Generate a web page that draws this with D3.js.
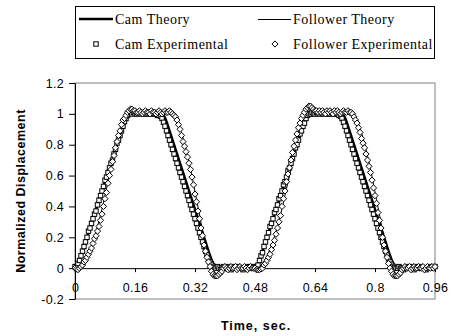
<!DOCTYPE html>
<html><head><meta charset="utf-8">
<script src="https://cdn.jsdelivr.net/npm/d3@7"></script>
<style>body{margin:0;background:#fff}svg{display:block}</style>
</head><body>
<svg id="c" width="451" height="336"></svg>
<script>
// sampling interval of all series (seconds)
const timeStep = 0.004;
const camTheory = [
0,.008,.025,.05,.08,.11,.14,.17,.2,.23,.26,.29,.32,.35,.38,.41,.44,.47,.5,.53,.56,.59,.62,.65,.68,.71,.74,.77,.8,.83,.86,.89,.92,.945,.967,.985,.996,1,
1,1,1,1,1,1,1,1,1,1,1,1,1,1,1,1,1,1,1,1,
1,.992,.975,.95,.92,.89,.86,.83,.8,.77,.74,.71,.68,.65,.62,.59,.56,.53,.5,.47,.44,.41,.38,.35,.32,.29,.26,.23,.2,.17,.14,.11,.08,.055,.033,.015,.004,0,
0,0,0,0,0,0,0,0,0,0,0,0,0,0,0,0,0,0,0,0,0,0,0,0,
0,.008,.025,.05,.08,.11,.14,.17,.2,.23,.26,.29,.32,.35,.38,.41,.44,.47,.5,.53,.56,.59,.62,.65,.68,.71,.74,.77,.8,.83,.86,.89,.92,.945,.967,.985,.996,1,
1,1,1,1,1,1,1,1,1,1,1,1,1,1,1,1,1,1,1,1,
1,.992,.975,.95,.92,.89,.86,.83,.8,.77,.74,.71,.68,.65,.62,.59,.56,.53,.5,.47,.44,.41,.38,.35,.32,.29,.26,.23,.2,.17,.14,.11,.08,.055,.033,.015,.004,0,
0,0,0,0,0,0,0,0,0,0,0,0,0,0,0,0,0,0,0,0,0,0,0,0,
0];
const followerTheory = [
0,.002,.005,.01,.02,.032,.045,.062,.08,.1,.123,.148,.175,.205,.237,.27,.306,.345,.385,.428,.472,.515,.558,.602,.645,.688,.73,.77,.81,.847,.88,.91,.937,.96,.98,.997,1.01,1.017,1.02,1.02,1.018,1.013,1.01,1.006,1.003,1,
1,1,1,1,1,1,1,1,1,1,1,1,1,1,1,1,1,1,
.997,.991,.985,.972,.955,.935,.908,.878,.845,.808,.77,.73,.687,.642,.595,.545,.495,.445,.395,.345,.295,.245,.197,.15,.108,.072,.04,.013,-.008,-.025,-.036,-.041,-.04,-.034,-.025,-.015,-.008,-.003,0,
0,0,0,0,0,0,0,0,0,0,0,0,0,0,0,0,0,
0,.002,.005,.01,.02,.032,.045,.062,.08,.1,.123,.148,.175,.205,.237,.27,.306,.345,.385,.428,.472,.515,.558,.602,.645,.688,.73,.77,.81,.847,.88,.91,.937,.96,.98,.997,1.015,1.025,1.03,1.03,1.025,1.018,1.01,1.006,1.003,1,
1,1,1,1,1,1,1,1,1,1,1,1,1,1,1,1,1,1,
.997,.991,.985,.972,.955,.935,.908,.878,.845,.808,.77,.73,.687,.642,.595,.545,.495,.445,.395,.345,.295,.245,.197,.15,.108,.072,.04,.013,-.008,-.025,-.036,-.041,-.04,-.034,-.025,-.015,-.008,-.003,0,
0,0,0,0,0,0,0,0,0,0,0,0,0,0,0,0,0,
0];
const camExperimental = [
.01,.01,.03,.05,.08,.11,.14,.17,.2,.24,.26,.29,.32,.35,.37,.41,.44,.47,.5,.53,.57,.59,.62,.65,.68,.7,.74,.77,.81,.83,.86,.89,.92,.95,.97,.99,1,1.01,
1,1.01,1,1,1.01,1,1,1.01,1,1,1,1.01,1,1,1.01,1,1,.99,.99,
.985,.97,.945,.92,.89,.86,.83,.8,.77,.74,.71,.68,.65,.62,.59,.56,.53,.5,.47,.44,.41,.38,.35,.32,.29,.26,.23,.2,.17,.14,.11,.085,.06,.04,.025,.012,.005,0,
.01,0,-.01,0,.01,0,0,.01,0,-.01,0,.01,0,0,.01,0,0,-.01,0,.01,0,0,.01,0,.01,
0,.01,.02,.05,.08,.1,.14,.17,.2,.23,.27,.29,.32,.36,.38,.41,.45,.47,.5,.54,.56,.59,.63,.65,.68,.71,.74,.78,.8,.83,.87,.89,.92,.94,.97,.99,1,1,
1.01,1,1,1.01,1,1,1.01,1,1,1.01,1,1,1,1.01,1,1,1.01,1,.99,
.985,.97,.945,.92,.89,.86,.83,.8,.77,.74,.71,.68,.65,.62,.59,.56,.53,.5,.47,.44,.41,.38,.35,.32,.29,.26,.23,.2,.17,.14,.11,.085,.06,.04,.025,.012,.005,0,
0,.01,0,0,-.01,0,.01,0,0,.01,0,-.01,0,.01,0,0,.01,0,0,-.01,0,.01,0,0,.01,
.01];
const followerExperimental = [
0,-.005,-.01,0,.01,.02,.04,.05,.07,.09,.11,.13,.16,.19,.21,.24,.27,.31,.35,.4,.45,.49,.55,.6,.64,.69,.73,.78,.82,.86,.89,.93,.96,.97,.99,1.01,1.02,1.03,1.03,1.02,
1.02,1.01,1.01,1.02,1.01,1,1.01,1.02,1.01,1.01,1,1.02,1.01,1.01,1,1.01,1.02,1.01,1,1.01,1.02,1.01,1.01,1.02,1.01,1,
.99,.98,.96,.93,.9,.86,.82,.79,.755,.72,.68,.64,.59,.54,.48,.43,.37,.32,.26,.21,.15,.11,.07,.04,.01,-.02,-.04,-.05,-.05,-.05,-.04,-.03,-.02,0,.01,
0,-.01,0,.01,0,0,.01,-.01,0,.01,0,0,.01,0,-.01,0,.01,0,0,
0,-.01,-.01,-.01,-.005,0,.02,.03,.05,.07,.09,.12,.15,.18,.22,.26,.3,.34,.4,.45,.5,.56,.61,.65,.7,.75,.79,.83,.87,.91,.94,.97,.99,1.01,1.03,1.04,1.05,1.05,1.04,1.03,
1.02,1.02,1.01,1.02,1.01,1.02,1.01,1,1.02,1.01,1.02,1.01,1,1.02,1.01,1.02,1.01,1,1.01,1.02,1.01,1.01,1.02,1.01,1.01,1,
.98,.96,.94,.91,.88,.84,.81,.78,.74,.7,.66,.62,.57,.52,.47,.42,.36,.31,.26,.2,.15,.11,.07,.03,0,-.02,-.04,-.05,-.05,-.05,-.04,-.03,-.01,0,.01,
0,0,.01,-.01,0,.01,0,0,.01,0,0,.01,-.01,0,.01,0,0,.01,0,
.01];
const xTicks = [0, 0.16, 0.32, 0.48, 0.64, 0.8, 0.96];
const xTickLabels = ["0", "0.16", "0.32", "0.48", "0.64", "0.8", "0.96"];
const yTicks = [-0.2, 0, 0.2, 0.4, 0.6, 0.8, 1, 1.2];
const yTickLabels = ["-0.2", "0", "0.2", "0.4", "0.6", "0.8", "1", "1.2"];
const legendLabels = ["Cam Theory", "Follower Theory", "Cam Experimental", "Follower Experimental"];
const xTitle = "Time, sec.";
const yTitle = "Normalized Displacement";

const tAt = i => +(i * timeStep).toFixed(4);
const svg = d3.select("#c");
const x = d3.scaleLinear().domain([0, 0.96]).range([75, 435]);
const y = d3.scaleLinear().domain([-0.2, 1.2]).range([299, 83]);
const sans = "'Liberation Sans', Arial, sans-serif";
const serif = "'Liberation Serif', 'Times New Roman', serif";

svg.append("rect").attr("width", 451).attr("height", 336).attr("fill", "#fff");
// plot border
svg.append("rect").attr("x", 75).attr("y", 83).attr("width", 360).attr("height", 216)
  .attr("fill", "none").attr("stroke", "#808080").attr("stroke-width", 1);

// y axis
const yAx = svg.append("g").attr("transform", "translate(75,0)")
  .call(d3.axisLeft(y).tickValues(yTicks).tickSizeInner(6).tickSizeOuter(0).tickPadding(5)
    .tickFormat((d, i) => yTickLabels[i]));
yAx.selectAll("path,line").attr("stroke", "#000");
yAx.selectAll("text").attr("font-family", sans).attr("font-size", 12.5).attr("letter-spacing", 0.3).attr("fill", "#000");

// x axis at y=0
const xAx = svg.append("g").attr("transform", `translate(0,${y(0)})`)
  .call(d3.axisBottom(x).tickValues(xTicks).tickSizeInner(4).tickSizeOuter(0).tickPadding(11)
    .tickFormat((d, i) => xTickLabels[i]));
xAx.selectAll("path,line").attr("stroke", "#000");
xAx.selectAll("text").attr("font-family", sans).attr("font-size", 12.5).attr("letter-spacing", 0.3).attr("fill", "#000");

// titles
svg.append("text").attr("x", 256).attr("y", 330).attr("text-anchor", "middle")
  .attr("font-family", sans).attr("font-size", 12.5).attr("font-weight", "bold")
  .attr("letter-spacing", 1).text(xTitle);
svg.append("text").attr("transform", "translate(25,191) rotate(-90)").attr("text-anchor", "middle")
  .attr("font-family", sans).attr("font-size", 12.5).attr("font-weight", "bold")
  .attr("letter-spacing", 0.5).text(yTitle);

const line = d3.line().x((d, i) => x(tAt(i))).y(d => y(d));
const plot = svg.append("g");
plot.append("path").datum(camTheory).attr("d", line).attr("fill", "none")
  .attr("stroke", "#000").attr("stroke-width", 2.6);
plot.append("path").datum(followerTheory).attr("d", line).attr("fill", "none")
  .attr("stroke", "#000").attr("stroke-width", 1);

const sq = 4.4, dm = 3.1;
const diamondPath = (cx, cy) => `M${cx},${cy - dm}L${cx + dm},${cy}L${cx},${cy + dm}L${cx - dm},${cy}Z`;
plot.selectAll("rect.cam").data(camExperimental).join("rect").attr("class", "cam")
  .attr("x", (d, i) => x(tAt(i)) - sq / 2).attr("y", d => y(d) - sq / 2)
  .attr("width", sq).attr("height", sq).attr("fill", "#fff").attr("stroke", "#000").attr("stroke-width", 1);
plot.selectAll("path.fol").data(followerExperimental).join("path").attr("class", "fol")
  .attr("d", (d, i) => diamondPath(x(tAt(i)), y(d)))
  .attr("fill", "#fff").attr("stroke", "#000").attr("stroke-width", 1);

// legend
const lg = svg.append("g");
lg.append("rect").attr("x", 75.5).attr("y", 6.5).attr("width", 359).attr("height", 52)
  .attr("fill", "#fff").attr("stroke", "#000").attr("stroke-width", 1);
lg.append("line").attr("x1", 79).attr("x2", 113).attr("y1", 19).attr("y2", 19)
  .attr("stroke", "#000").attr("stroke-width", 2.6);
lg.append("line").attr("x1", 258).attr("x2", 291).attr("y1", 19.5).attr("y2", 19.5)
  .attr("stroke", "#000").attr("stroke-width", 1);
lg.append("rect").attr("x", 96 - sq / 2).attr("y", 44 - sq / 2).attr("width", sq).attr("height", sq)
  .attr("fill", "#fff").attr("stroke", "#000");
lg.append("path").attr("d", diamondPath(275, 44)).attr("fill", "#fff").attr("stroke", "#000");
const lpos = [[115, 24], [293, 24], [115, 48.5], [293, 48.5]];
legendLabels.forEach((t, i) => {
  lg.append("text").attr("x", lpos[i][0]).attr("y", lpos[i][1])
    .attr("font-family", serif).attr("font-size", 14).attr("letter-spacing", 0.5)
    .attr("fill", "#000").text(t);
});
</script>
</body></html>
